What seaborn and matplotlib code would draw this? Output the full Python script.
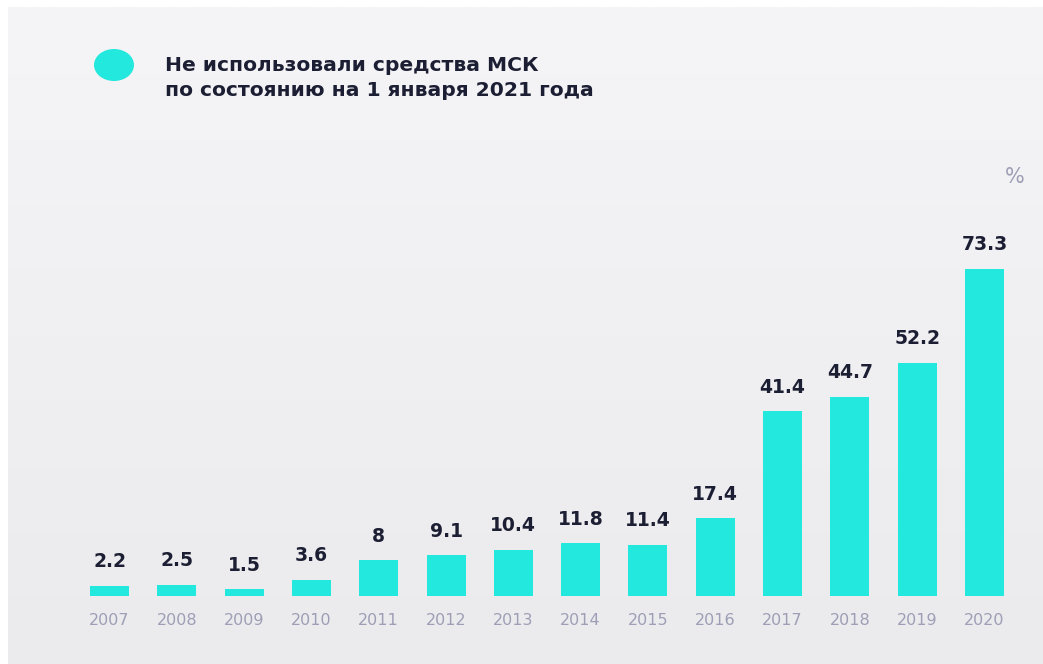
import numpy as np
import pandas as pd
import matplotlib
matplotlib.use("Agg")
import matplotlib.pyplot as plt
from matplotlib.patches import Ellipse
import seaborn as sns

years = ["2007", "2008", "2009", "2010", "2011", "2012", "2013",
         "2014", "2015", "2016", "2017", "2018", "2019", "2020"]
values = [2.2, 2.5, 1.5, 3.6, 8, 9.1, 10.4, 11.8, 11.4, 17.4, 41.4, 44.7, 52.2, 73.3]
value_labels = ["2.2", "2.5", "1.5", "3.6", "8", "9.1", "10.4", "11.8", "11.4",
                "17.4", "41.4", "44.7", "52.2", "73.3"]
legend_lines = ["Не использовали средства МСК", "по состоянию на 1 января 2021 года"]

df = pd.DataFrame({"year": years, "value": values})

sns.set_style("white")
plt.rcParams["font.family"] = ["DejaVu Sans"]

BAR = "#22e8dd"
DARK = "#1c1f33"
GREY = "#9e9eb6"

W, H = 1043, 664
fig = plt.figure(figsize=(W / 100, H / 100), dpi=100)
fig.patch.set_facecolor("white")

# soft grey gradient panel behind everything
bg = fig.add_axes([8 / W, 0, 1 - 8 / W, 1 - 7 / H], zorder=-5)
grad = np.linspace(0, 1, 256).reshape(-1, 1)
cmap = matplotlib.colors.LinearSegmentedColormap.from_list("bg", ["#f5f5f7", "#ebebee"])
bg.imshow(grad, aspect="auto", cmap=cmap, extent=[0, 1, 0, 1], origin="upper")
bg.axis("off")

ax = fig.add_axes([75.85 / W, 68 / H, 942.3 / W, 357 / H])
ax.patch.set_alpha(0)
sns.barplot(data=df, x="year", y="value", color=BAR, width=0.58,
            saturation=1, linewidth=0, ax=ax)
ax.set_xlim(-0.5, 13.5)
ax.set_ylim(0, 80)

for i, (v, lab) in enumerate(zip(values, value_labels)):
    ax.annotate(lab, (i, v), xytext=(0, 13.5), textcoords="offset points",
                ha="center", va="baseline", fontsize=13.5, fontweight="bold",
                color=DARK)

ax.set_xlabel("")
ax.set_ylabel("")
ax.set_yticks([])
ax.tick_params(axis="x", length=0, pad=12, labelsize=11.5, labelcolor=GREY)
sns.despine(ax=ax, left=True, bottom=True)

# legend marker and text
fig.add_artist(Ellipse((114 / W, 1 - 65 / H), 40 / W, 32 / H,
                       transform=fig.transFigure, color=BAR, lw=0))
fig.text(165 / W, 1 - 71 / H, legend_lines[0], fontsize=14.6, fontweight="bold",
         color=DARK, va="baseline", ha="left")
fig.text(165 / W, 1 - 96 / H, legend_lines[1], fontsize=14.6, fontweight="bold",
         color=DARK, va="baseline", ha="left")

fig.text(1025 / W, 1 - 183 / H, "%", fontsize=15, color=GREY,
         va="baseline", ha="right")

fig.savefig("out.png", dpi=100)
